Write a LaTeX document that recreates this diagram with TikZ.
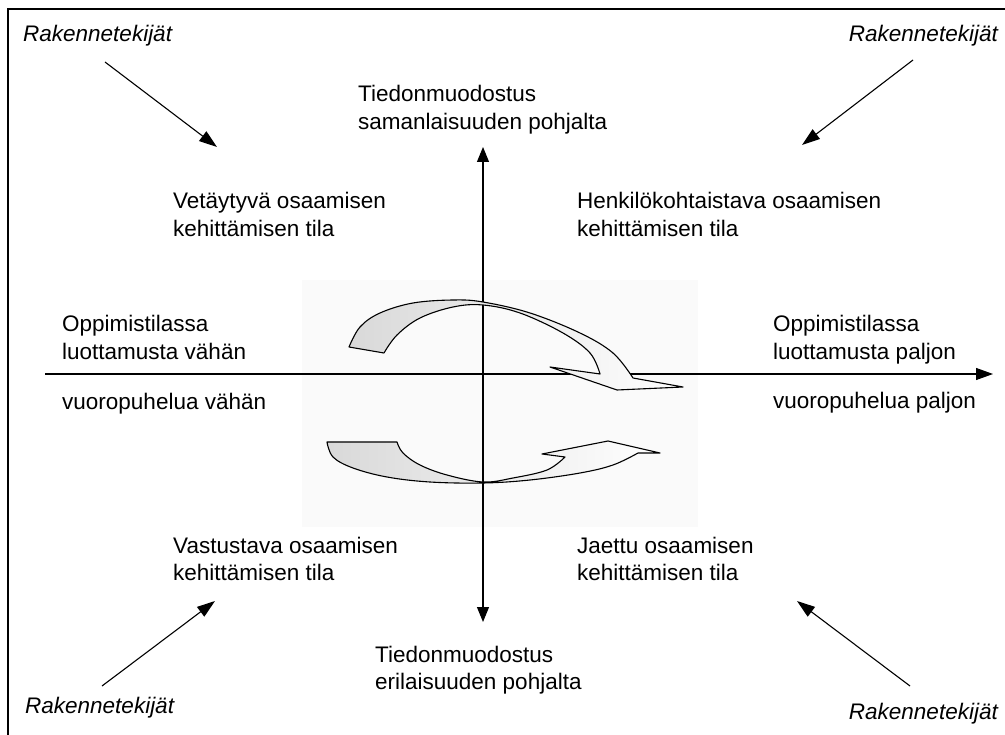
\documentclass[tikz,border=0pt]{standalone}
\usepackage{fontspec}
\setmainfont{Liberation Sans}
\usetikzlibrary{arrows.meta}
\newcommand{\twolines}[2]{\begin{tabular}[t]{@{}l@{}}#1\\#2\end{tabular}}
\begin{document}
\begin{tikzpicture}[x=1pt,y=-1pt,
  font=\fontsize{22.5}{27.5}\selectfont,
  lbl/.style={anchor=base west, inner sep=0pt},
  rakL/.style={anchor=base west, inner sep=0pt, font=\fontsize{22.5}{27.5}\selectfont\itshape},
  rakR/.style={anchor=base east, inner sep=0pt, font=\fontsize{22.5}{27.5}\selectfont\itshape},
  axis/.style={line width=1.1pt},
  corner/.style={line width=1.1pt, -{Triangle[length=18pt,width=12pt]}},
  ribbon/.style={draw, line width=1.1pt, line join=round, left color=black!15, right color=white},
]
\useasboundingbox (0,0) rectangle (1005,735);
% frame (cut at right and bottom)
\draw[line width=1.4pt] (8,740) -- (8,9) -- (1010,9);
% faint backdrop
\fill[black!2] (302,280) rectangle (698,527);

% axes
\coordinate (hL) at (45,374);
\coordinate (hR) at (993,374);
\coordinate (vT) at (483,147);
\coordinate (vB) at (483,622);
\draw[axis, -{Triangle[length=17pt,width=12pt]}] (hL) -- (hR);
\draw[axis, {Triangle[length=15pt,width=12pt]}-{Triangle[length=15pt,width=12pt]}] (vT) -- (vB);

% upper curved arrow
\path[ribbon]
  plot[smooth, tension=0.6] coordinates {(349,347) (360,327) (380,313) (413,303) (453,300) (483,302) (530,313) (580,333) (613,353) (633,378)}
  -- (683,387) -- (617,390) -- (550,367)
  -- plot[smooth, tension=0.6] coordinates {(600,374) (590,353) (563,333) (520,313) (483,305) (453,307) (420,318) (397,335) (384,353)}
  -- cycle;

% lower curved arrow
\path[ribbon]
  plot[smooth, tension=0.6] coordinates {(327,442) (333,457) (353,468) (387,477) (430,482) (483,483) (530,480) (580,473) (613,465) (638,453)}
  -- (660,453) -- (608,441) -- (542,454)
  -- plot[smooth, tension=0.6] coordinates {(565,457) (547,470) (513,478) (483,482) (447,475) (420,465) (403,453) (397,442)}
  -- cycle;

% labels
\node[rakL] (rtl) at (23,42) {Rakennetekijät};
\node[rakR] (rtr) at (998,42) {Rakennetekijät};
\node[rakL] (rbl) at (25,713) {Rakennetekijät};
\node[rakR] (rbr) at (998,719) {Rakennetekijät};

\node[lbl] (top) at (358,102) {\twolines{Tiedonmuodostus}{samanlaisuuden pohjalta}};
\node[lbl] (bot) at (375,662) {\twolines{Tiedonmuodostus}{erilaisuuden pohjalta}};

\node[lbl] (q2) at (173,209) {\twolines{Vetäytyvä osaamisen}{kehittämisen tila}};
\node[lbl] (q1) at (577,209) {\twolines{Henkilökohtaistava osaamisen}{kehittämisen tila}};
\node[lbl] (q3) at (173,553) {\twolines{Vastustava osaamisen}{kehittämisen tila}};
\node[lbl] (q4) at (577,553) {\twolines{Jaettu osaamisen}{kehittämisen tila}};

\node[lbl] (lo) at (62,332) {\twolines{Oppimistilassa}{luottamusta vähän}};
\node[lbl] (lu) at (62,410) {vuoropuhelua vähän};
\node[lbl] (ro) at (773,332) {\twolines{Oppimistilassa}{luottamusta paljon}};
\node[lbl] (ru) at (773,409) {vuoropuhelua paljon};

% corner arrows
\coordinate (tlS) at (105,62);  \coordinate (tlE) at (217,147);
\coordinate (trS) at (913,60);  \coordinate (trE) at (802,145);
\coordinate (blS) at (102,686); \coordinate (blE) at (215,601);
\coordinate (brS) at (910,686); \coordinate (brE) at (797,601);
\draw[corner] (tlS) -- (tlE);
\draw[corner] (trS) -- (trE);
\draw[corner] (blS) -- (blE);
\draw[corner] (brS) -- (brE);
\end{tikzpicture}
\end{document}
